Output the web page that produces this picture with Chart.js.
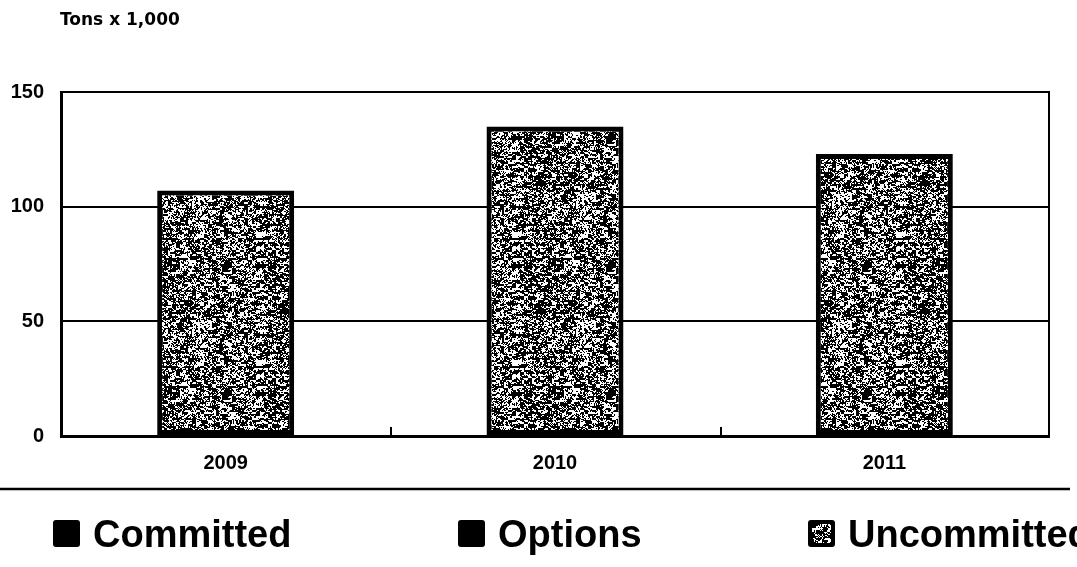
<!DOCTYPE html>
<html>
<head>
<meta charset="utf-8">
<script src="https://cdn.jsdelivr.net/npm/chart.js@4.4.1/dist/chart.umd.min.js"></script>
<style>
  html, body { margin: 0; padding: 0; background: #fff; overflow: hidden; }
  canvas { display: block; }
</style>
</head>
<body>
<canvas id="chart" width="1077" height="567"></canvas>
<script>
const years = ['2009', '2010', '2011'];
const committed = [0, 0, 0];
const options = [0, 0, 0];
const uncommitted = [107, 135, 123];
const seriesNames = ['Committed', 'Options', 'Uncommitted'];
const yTicks = [0, 50, 100, 150];
const unitLabel = 'Tons x 1,000';

const TICK_FONT = { family: '"Liberation Sans", Arial, sans-serif', weight: 'bold', size: 20 };

// stippled grey fill, built from a fixed integer hash so it looks the same every run
function hash(x, y) {
  let h = (x * 374761393 + y * 668265263) | 0;
  h = Math.imul(h ^ (h >>> 13), 1274126177);
  h ^= h >>> 16;
  return (h >>> 0) / 4294967295;
}
function makeTexture(size) {
  const c = document.createElement('canvas');
  c.width = c.height = size;
  const g = c.getContext('2d');
  const img = g.createImageData(size, size);
  for (let y = 0; y < size; y++) {
    for (let x = 0; x < size; x++) {
      const v = hash(x >> 2, y >> 1) * 0.35 + hash(x >> 1, y >> 1) * 0.3 + hash(x + 911, y + 377) * 0.35;
      const k = v < 0.54 ? 0 : 255;
      const i = (y * size + x) * 4;
      img.data[i] = img.data[i + 1] = img.data[i + 2] = k;
      img.data[i + 3] = 255;
    }
  }
  g.putImageData(img, 0, 0);
  return c;
}
const texture = makeTexture(128);
const ctx0 = document.getElementById('chart').getContext('2d');
const stipple = ctx0.createPattern(texture, 'repeat');

// frame edge, inner category ticks, unit label, rule and legend row
const decorations = {
  id: 'decorations',
  afterDraw(chart) {
    const { ctx, chartArea: a, scales: { x } } = chart;
    ctx.save();
    ctx.strokeStyle = '#000';
    ctx.fillStyle = '#000';

    ctx.lineWidth = 2;
    ctx.beginPath();
    ctx.moveTo(a.right, a.top - 1);
    ctx.lineTo(a.right, a.bottom + 1);
    for (let i = 1; i < years.length; i++) {
      const px = Math.round((x.getPixelForValue(i - 1) + x.getPixelForValue(i)) / 2) + 1;
      ctx.moveTo(px, a.bottom);
      ctx.lineTo(px, a.bottom - 9);
    }
    ctx.stroke();

    ctx.font = 'bold 17px "DejaVu Sans", sans-serif';
    ctx.textBaseline = 'alphabetic';
    ctx.textAlign = 'left';
    ctx.fillText(unitLabel, a.left - 1, 25);

    ctx.lineWidth = 2.5;
    ctx.beginPath();
    ctx.moveTo(0, 489);
    ctx.lineTo(1070, 489);
    ctx.stroke();

    const starts = [53, 458, 808];
    ctx.font = 'bold 38px "Liberation Sans", Arial, sans-serif';
    seriesNames.forEach((name, i) => {
      const bx = starts[i], by = 520, s = 27;
      ctx.beginPath();
      ctx.roundRect(bx, by, s, s, 3);
      ctx.fillStyle = '#000';
      ctx.fill();
      if (i === 2) {
        ctx.fillStyle = stipple;
        ctx.fillRect(bx + 4, by + 4, s - 8, s - 8);
      }
      ctx.fillStyle = '#000';
      ctx.fillText(name, bx + s + 13, 547);
    });
    ctx.restore();
  }
};

new Chart(document.getElementById('chart'), {
  type: 'bar',
  data: {
    labels: years,
    datasets: [
      { label: seriesNames[0], data: committed, backgroundColor: '#000', borderWidth: 0 },
      { label: seriesNames[1], data: options, backgroundColor: '#000', borderWidth: 0 },
      { label: seriesNames[2], data: uncommitted, backgroundColor: stipple,
        borderColor: '#000', borderWidth: 5, borderSkipped: false }
    ]
  },
  options: {
    responsive: false,
    animation: false,
    barPercentage: 0.416,
    categoryPercentage: 1,
    layout: { padding: { left: 0, right: 28, top: 92, bottom: 91 } },
    plugins: { legend: { display: false }, tooltip: { enabled: false } },
    scales: {
      x: {
        stacked: true,
        grid: { display: false, drawTicks: false },
        border: { display: true, color: '#000', width: 3 },
        ticks: { color: '#000', font: TICK_FONT, padding: 15 },
        afterFit(s) { s.height = 40; }
      },
      y: {
        stacked: true,
        min: 0,
        max: 150,
        afterBuildTicks(s) { s.ticks = yTicks.map(v => ({ value: v })); },
        grid: { color: '#000', lineWidth: 2, drawTicks: false },
        border: { color: '#000', width: 3 },
        ticks: { color: '#000', font: TICK_FONT, padding: 17 },
        afterFit(s) { s.width = 61; }
      }
    }
  },
  plugins: [decorations]
});
</script>
</body>
</html>
